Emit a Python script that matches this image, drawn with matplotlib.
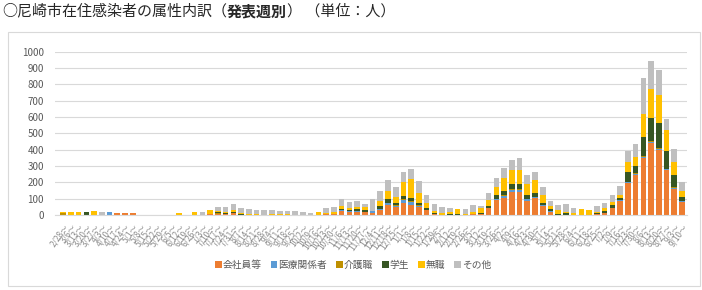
import matplotlib
matplotlib.use("Agg")
import matplotlib.pyplot as plt
from matplotlib.patches import Rectangle
import numpy as np

plt.rcParams['font.family'] = ['Noto Sans CJK JP', 'DejaVu Sans']

weeks = ["2/28", "3/6", "3/13", "3/20", "3/27", "4/3", "4/10", "4/17", "4/24", "5/1",
         "5/8", "5/15", "5/22", "5/29", "6/5", "6/12", "6/19", "6/26", "7/3", "7/10",
         "7/17", "7/24", "7/31", "8/7", "8/14", "8/21", "8/28", "9/4", "9/11", "9/18",
         "9/25", "10/2", "10/9", "10/16", "10/23", "10/30", "11/6", "11/13", "11/20", "11/27",
         "12/4", "12/11", "12/18", "12/25", "1/1", "1/8", "1/15", "1/22", "1/29", "2/5",
         "2/12", "2/19", "2/26", "3/5", "3/12", "3/19", "3/26", "4/2", "4/9", "4/16",
         "4/23", "4/30", "5/7", "5/14", "5/21", "5/28", "6/4", "6/11", "6/18", "6/25",
         "7/2", "7/9", "7/16", "7/23", "7/30", "8/6", "8/13", "8/20", "8/27", "9/3",
         "9/10"]
tick_labels = [w + "～" for w in weeks]

series_names = ["会社員等", "医療関係者", "介護職", "学生", "無職", "その他"]
colors = ["#ED7D31", "#5B9BD5", "#BF9000", "#375623", "#FFC000", "#BFBFBF"]

company = [0, 0, 0, 0, 0, 0, 0, 15, 15, 15,
           0, 0, 0, 0, 0, 0, 0, 0, 0, 5,
           8, 8, 10, 0, 0, 0, 0, 0, 3, 0,
           2, 0, 0, 0, 5, 5, 25, 20, 20, 20,
           14, 30, 61, 51, 75, 61, 51, 30, 5, 3,
           3, 3, 3, 5, 5, 40, 92, 102, 142, 142,
           85, 106, 57, 20, 3, 3, 3, 2, 0, 5,
           15, 45, 88, 197, 248, 350, 441, 396, 274, 159,
           81]
medical = [0, 0, 0, 0, 0, 0, 18, 0, 0, 0,
           0, 0, 0, 0, 0, 0, 0, 0, 0, 0,
           0, 0, 0, 0, 0, 0, 0, 0, 0, 0,
           0, 0, 0, 0, 3, 0, 3, 3, 3, 0,
           8, 6, 10, 5, 16, 20, 5, 3, 0, 0,
           0, 0, 0, 0, 0, 0, 4, 14, 10, 14,
           10, 4, 3, 5, 0, 0, 0, 0, 0, 0,
           0, 0, 3, 5, 5, 8, 8, 10, 5, 8,
           3]
care = [10, 0, 0, 0, 0, 0, 0, 0, 0, 0,
        0, 0, 0, 0, 0, 0, 0, 0, 0, 0,
        3, 0, 3, 0, 0, 0, 0, 0, 0, 0,
        0, 0, 0, 0, 0, 0, 3, 0, 3, 0,
        0, 3, 5, 3, 5, 5, 5, 0, 0, 0,
        0, 0, 0, 0, 0, 3, 4, 4, 5, 4,
        3, 3, 3, 0, 0, 0, 0, 0, 0, 0,
        0, 0, 0, 3, 3, 5, 5, 5, 5, 3,
        3]
student = [0, 0, 0, 18, 0, 0, 0, 0, 0, 0,
           0, 0, 0, 0, 0, 0, 0, 0, 0, 0,
           5, 6, 8, 5, 0, 0, 0, 0, 0, 0,
           0, 0, 0, 0, 0, 0, 8, 5, 10, 12,
           0, 14, 20, 12, 20, 20, 15, 10, 8, 0,
           5, 3, 0, 3, 5, 10, 22, 24, 30, 30,
           26, 20, 12, 10, 5, 12, 0, 0, 0, 5,
           8, 15, 12, 59, 41, 115, 138, 152, 106, 75,
           24]
jobless = [6, 18, 18, 0, 22, 0, 0, 0, 0, 0,
           0, 0, 0, 0, 0, 15, 0, 18, 0, 25,
           8, 6, 12, 5, 8, 5, 3, 5, 5, 4,
           0, 0, 0, 18, 5, 15, 15, 15, 12, 15,
           5, 30, 50, 40, 85, 112, 60, 30, 12, 10,
           10, 28, 4, 13, 30, 40, 47, 81, 89, 87,
           65, 81, 49, 18, 20, 5, 12, 35, 33, 10,
           18, 20, 20, 63, 61, 140, 177, 173, 132, 81,
           37]
other = [0, 0, 0, 0, 0, 20, 0, 0, 0, 0,
         0, 0, 0, 0, 0, 0, 0, 0, 20, 0,
         27, 30, 34, 30, 27, 25, 27, 25, 14, 22,
         24, 18, 14, 0, 27, 30, 42, 38, 38, 23,
         69, 64, 68, 62, 64, 64, 74, 49, 40, 34,
         25, 5, 30, 40, 17, 40, 56, 65, 61, 73,
         59, 48, 49, 32, 33, 45, 30, 0, 0, 37,
         35, 42, 54, 63, 75, 220, 176, 152, 68, 81,
         55]

data = [company, medical, care, student, jobless, other]

W, H = 702, 290
fig = plt.figure(figsize=(W / 100, H / 100), dpi=100)
fig.patch.set_facecolor("white")

# outer chart border
fig.add_artist(Rectangle((8 / W, 1 - 286 / H), (700 - 8) / W, (286 - 32) / H,
                         transform=fig.transFigure, fill=False,
                         edgecolor="#D9D9D9", linewidth=0.8))

ax = fig.add_axes([55 / W, 1 - 215 / H, (687 - 55) / W, (215 - 51.7) / H])
x = np.arange(len(weeks))
bottom = np.zeros(len(weeks))
handles = []
for name, col, vals in zip(series_names, colors, data):
    v = np.array(vals, dtype=float)
    b = ax.bar(x, v, bottom=bottom, width=0.72, color=col, label=name, linewidth=0)
    handles.append(b)
    bottom += v

ax.set_xlim(-0.5 - 0.55, len(weeks) - 0.5 + 0.15)
ax.set_ylim(0, 1000)
ax.set_yticks(np.arange(0, 1001, 100))
ax.yaxis.grid(True, color="#D9D9D9", linewidth=0.8)
ax.set_axisbelow(True)
for s in ["top", "right", "left"]:
    ax.spines[s].set_visible(False)
ax.spines["bottom"].set_color("#D9D9D9")
ax.tick_params(axis="both", length=0, colors="#595959")
ax.tick_params(axis="y", labelsize=7, pad=8)
ax.set_xticks(x)
ax.set_xticklabels(tick_labels, rotation=55, ha="right", rotation_mode="anchor",
                   fontsize=6.0, color="#8C8C8C")
ax.tick_params(axis="x", pad=5)

fig.legend(handles=handles, labels=series_names, loc="center",
           bbox_to_anchor=(353 / W, 1 - 265 / H), ncol=6, frameon=False,
           fontsize=7, handlelength=0.7, handleheight=0.7,
           handletextpad=0.1, columnspacing=0.9, labelcolor="#595959")

# title with bold part
fig.canvas.draw()
renderer = fig.canvas.get_renderer()
parts = [("○尼崎市在住感染者の属性内訳（", "normal"), ("発表週別", "bold"),
         ("） （単位：人）", "normal")]
xpos = 2 / W
for txt, wt in parts:
    t = fig.text(xpos, 1 - 11 / H, txt, fontsize=10.8, fontweight=wt,
                 color="#262626", va="center", ha="left")
    bb = t.get_window_extent(renderer=renderer)
    xpos += bb.width / W

fig.savefig("out.png", dpi=100)
